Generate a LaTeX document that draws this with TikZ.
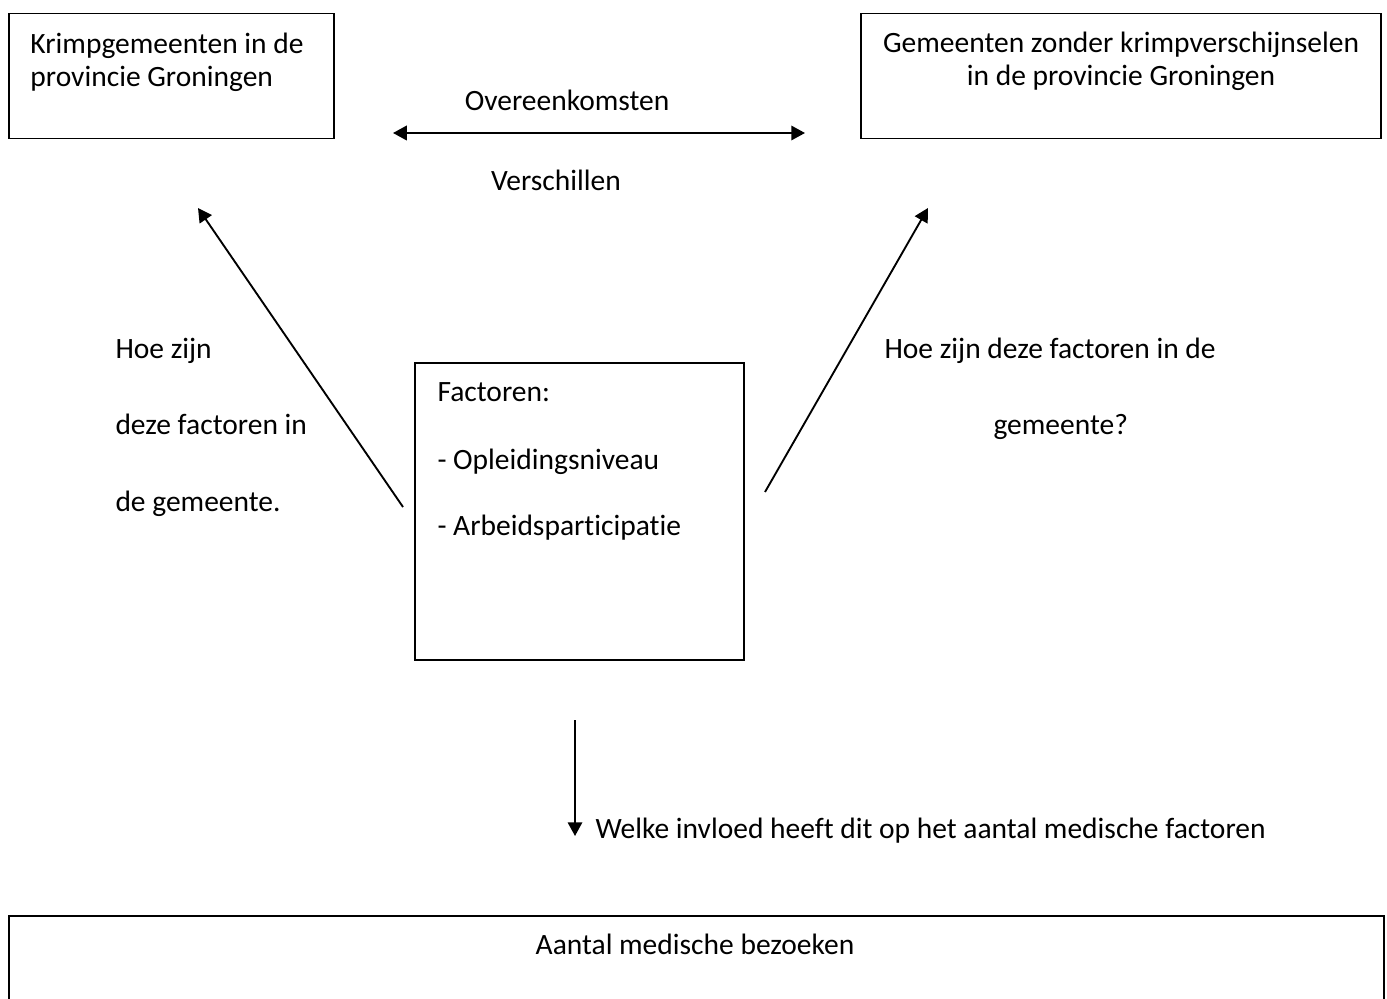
\documentclass[tikz,border=0pt]{standalone}
\usepackage{fontspec}
\setmainfont{Carlito}[Ligatures={NoCommon}]
\usetikzlibrary{arrows.meta}
\begin{document}
\begin{tikzpicture}[x=0.4pt,y=-0.4pt,
  box/.style={draw,line width=0.6pt,rectangle,inner sep=0pt,anchor=north west},
  txt/.style={inner sep=0pt,anchor=base west,font=\fontsize{11.8}{14}\selectfont},
  ctxt/.style={inner sep=0pt,anchor=base,font=\fontsize{11.8}{14}\selectfont},
  arr/.style={line width=0.75pt,-{Triangle[length=5.5pt,width=5.8pt]}},
  darr/.style={line width=0.75pt,{Triangle[length=5.5pt,width=5.8pt]}-{Triangle[length=5.5pt,width=5.8pt]}}]
\clip (0,0) rectangle (1387,999);
\fill[white] (0,0) rectangle (1387,999);
% boxes
\node[box,minimum width=325*0.4pt,minimum height=125*0.4pt] (krimp) at (8,13) {};
\node[box,minimum width=520*0.4pt,minimum height=125*0.4pt] (zonder) at (860,13) {};
\node[box,minimum width=329*0.4pt,minimum height=297*0.4pt] (fact) at (414,362) {};
\node[box,minimum width=1375*0.4pt,minimum height=120*0.4pt] (aantal) at (8,915) {};
% box texts
\node[txt] (k1) at (30,54) {Krimpgemeenten in de};
\node[txt] (k2) at (30,87) {provincie Groningen};
\node[ctxt] (z1) at (1121,53) {Gemeenten zonder krimpverschijnselen};
\node[ctxt] (z2) at (1121,86) {in de provincie Groningen};
\node[txt] (f1) at (437,401) {Factoren:};
\node[txt] (f2) at (437,469) {- Opleidingsniveau};
\node[txt] (f3) at (437,535) {- Arbeidsparticipatie};
\node[ctxt] (a1) at (695,954) {Aantal medische bezoeken};
% other labels
\node[ctxt] (ov) at (567,111) {Overeenkomsten};
\node[ctxt] (ve) at (556,191) {Verschillen};
\node[txt] (l1) at (115,358) {Hoe zijn};
\node[txt] (l2) at (115,434) {deze factoren in};
\node[txt] (l3) at (115,511) {de gemeente.};
\node[txt] (r1) at (884,358) {Hoe zijn deze factoren in de};
\node[txt] (r2) at (993,434) {gemeente?};
\node[txt] (w1) at (595,838) {Welke invloed heeft dit op het aantal medische factoren};
% connector coordinates
\coordinate (dl) at (393,133);
\coordinate (dr) at (805,133);
\coordinate (als) at (403,507);
\coordinate (ale) at (198,208);
\coordinate (ars) at (765,492);
\coordinate (are) at (928,208);
\coordinate (ds) at (575,720);
\coordinate (de) at (575,836);
\draw[darr] (dl) -- (dr);
\draw[arr] (als) -- (ale);
\draw[arr] (ars) -- (are);
\draw[arr] (ds) -- (de);
\end{tikzpicture}
\end{document}
